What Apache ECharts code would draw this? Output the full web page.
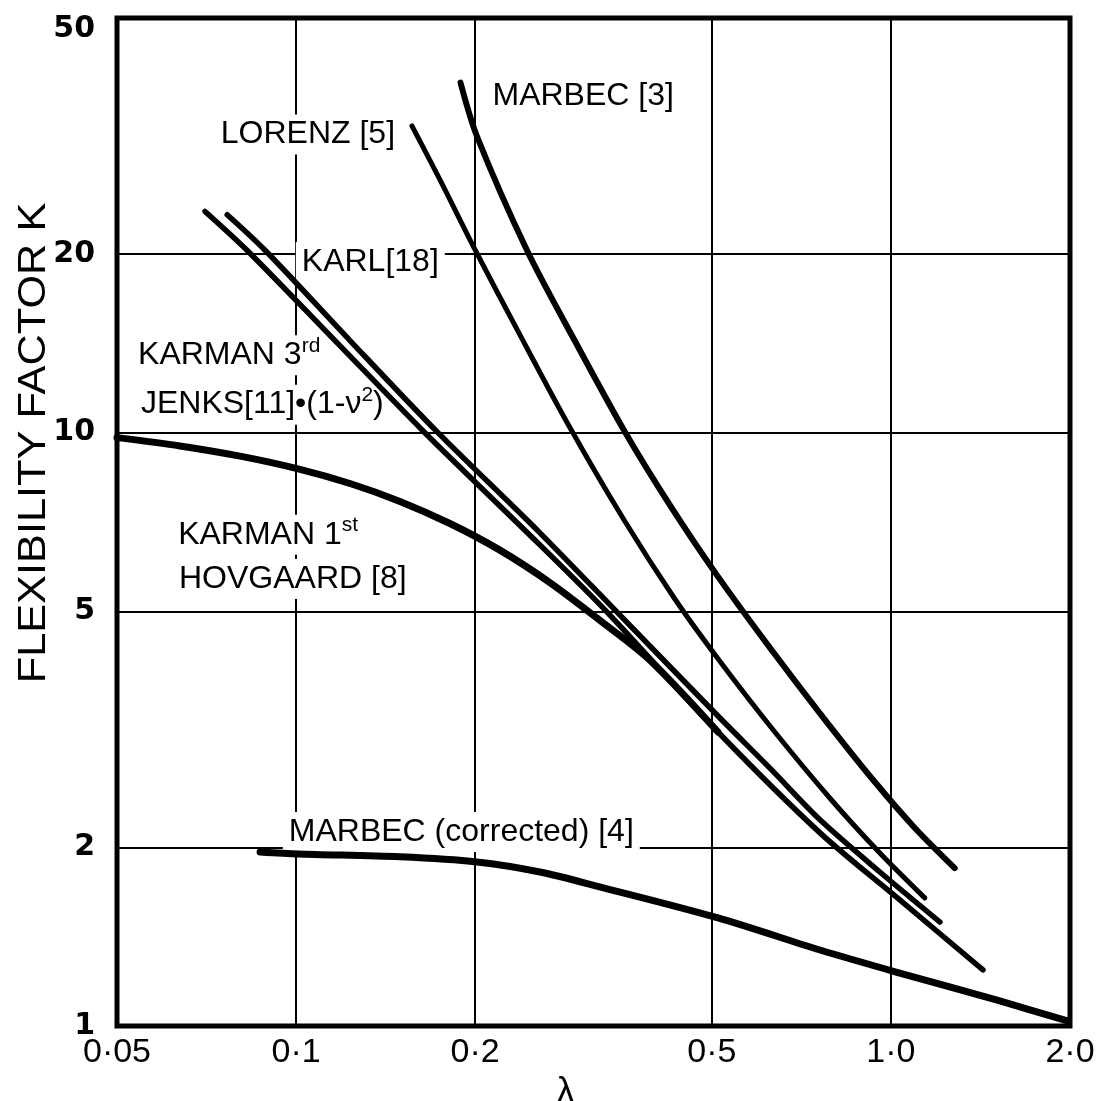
<!DOCTYPE html>
<html>
<head>
<meta charset="utf-8">
<script src="https://cdn.jsdelivr.net/npm/echarts@6/dist/echarts.min.js"></script>
<style>
  html, body { margin: 0; padding: 0; background: #fff; }
  #chart { width: 1104px; height: 1101px; }
</style>
</head>
<body>
<div id="chart"></div>
<script>
// Tick values on both logarithmic axes
const lambdaTicks = [0.05, 0.1, 0.2, 0.5, 1, 2];
const kTicks = [1, 2, 5, 10, 20, 50];

// Flexibility factor K against pipe-bend parameter lambda, one array per source: [lambda, K]
const marbec3 = [[0.189, 38.9], [0.2014, 31.6], [0.245, 20.2], [0.294, 14.3], [0.357, 10.04],
                 [0.428, 7.47], [0.512, 5.72], [0.626, 4.34], [0.766, 3.33], [0.939, 2.58],
                 [1.097, 2.157], [1.28, 1.846]];
const lorenz5 = [[0.1566, 32.9], [0.1745, 26.7], [0.1999, 20.35], [0.238, 14.6], [0.2886, 10.2],
                 [0.357, 7.09], [0.433, 5.25], [0.512, 4.16], [0.638, 3.13], [0.7985, 2.39],
                 [0.958, 1.957], [1.14, 1.644]];
const karl18 = [[0.0766, 23.3], [0.0887, 20.3], [0.1232, 14.3], [0.1725, 10.04], [0.257, 6.78],
                [0.350, 4.93], [0.512, 3.33], [0.626, 2.72], [0.760, 2.226], [0.958, 1.818],
                [1.209, 1.497]];
const karman3rd = [[0.0703, 23.6], [0.0827, 20.3], [0.1167, 14.24], [0.1646, 10.0], [0.257, 6.47],
                   [0.333, 4.99], [0.512, 3.13], [0.760, 2.116], [1.035, 1.631], [1.428, 1.243]];
const karman1st = [[0.05, 9.81], [0.0638, 9.50], [0.0805, 9.13], [0.1008, 8.69], [0.1232, 8.21],
                   [0.1495, 7.66], [0.1814, 7.03], [0.2201, 6.34], [0.2671, 5.59], [0.324, 4.83],
                   [0.393, 4.14], [0.512, 3.13]];
const marbecCorrected = [[0.087, 1.965], [0.1008, 1.950], [0.1495, 1.928], [0.2014, 1.890],
                         [0.257, 1.818], [0.324, 1.716], [0.512, 1.521], [0.760, 1.343],
                         [1.02, 1.233], [1.524, 1.102], [1.98, 1.020]];

// Curve annotations, anchored at [lambda, K] (left edge, vertical middle of the text)
const annotations = [
  { text: 'MARBEC [3]', at: [0.209, 36.9] },
  { text: 'LORENZ [5]', at: [0.0730, 31.8] },
  { text: 'KARL[18]', at: [0.0999, 19.4] },
  { text: 'KARMAN 3{s|rd}', at: [0.053, 13.5] },
  { text: 'JENKS[11]•(1-ν{s|2})', at: [0.0536, 11.15] },
  { text: 'KARMAN 1{s|st}', at: [0.0619, 6.73] },
  { text: 'HOVGAARD [8]', at: [0.0621, 5.67] },
  { text: 'MARBEC (corrected) [4]', at: [0.095, 2.124] }
];

const Y_TITLE = 'FLEXIBILITY FACTOR K';

const FONT = '"Liberation Sans", Arial, sans-serif';
const DIGITS = '"DejaVu Sans", "Liberation Sans", sans-serif';

function curve(name, data, width) {
  return {
    name: name,
    type: 'line',
    data: data,
    symbol: 'none',
    smooth: 0.3,
    z: 3,
    silent: true,
    lineStyle: { color: '#000', width: width, cap: 'round', join: 'round' }
  };
}

function fmtLambda(v) {
  const s = v < 1 ? String(+v.toPrecision(3)) : v.toFixed(1);
  return s.replace('.', '·');
}

// The topmost K label sits a little below its gridline
function fmtK(v) {
  return v === 50 ? '{top|50}' : String(v);
}

const chart = echarts.init(document.getElementById('chart'), null, { renderer: 'canvas' });

chart.setOption({
  animation: false,
  backgroundColor: '#fff',
  grid: {
    left: 117, right: 34, top: 18, bottom: 75,
    containLabel: false, outerBoundsMode: 'none',
    show: true, borderColor: '#000', borderWidth: 5, backgroundColor: 'transparent'
  },
  xAxis: {
    type: 'log', logBase: 10, min: 0.05, max: 2,
    name: 'λ', nameLocation: 'middle', nameGap: 46,
    nameTextStyle: { fontFamily: FONT, fontSize: 36, color: '#000', padding: [0, 56, 0, 0] },
    axisLine: { show: false },
    axisTick: { show: false, customValues: lambdaTicks },
    axisLabel: {
      customValues: lambdaTicks, formatter: fmtLambda, hideOverlap: false,
      showMinLabel: true, showMaxLabel: true,
      fontFamily: FONT, fontSize: 34, color: '#000', margin: 10
    },
    splitLine: { show: true, lineStyle: { color: '#000', width: 2 } }
  },
  yAxis: {
    type: 'log', logBase: 10, min: 1, max: 50,
    axisLine: { show: false },
    axisTick: { show: false, customValues: kTicks },
    axisLabel: {
      customValues: kTicks, formatter: fmtK, hideOverlap: false,
      showMinLabel: true, showMaxLabel: true,
      fontFamily: DIGITS, fontWeight: 'bold', fontSize: 30, color: '#000', margin: 22,
      rich: {
        top: { fontFamily: DIGITS, fontWeight: 'bold', fontSize: 30, color: '#000', padding: [22, 0, 0, 0] }
      }
    },
    splitLine: { show: true, lineStyle: { color: '#000', width: 2 } }
  },
  series: [
    curve('MARBEC [3]', marbec3, 6),
    curve('LORENZ [5]', lorenz5, 5),
    curve('KARL [18]', karl18, 5.5),
    curve('KARMAN 3rd / JENKS [11]', karman3rd, 5.5),
    curve('KARMAN 1st / HOVGAARD [8]', karman1st, 7),
    curve('MARBEC (corrected) [4]', marbecCorrected, 7)
  ]
});

// Curve annotations go through the grid's own coordinate conversion;
// the vertical axis title is set beside the axis, reading upwards.
function placeAnnotations() {
  const elements = annotations.map(function (a) {
    const p = chart.convertToPixel({ gridIndex: 0 }, a.at);
    return {
      type: 'text',
      x: p[0], y: p[1],
      z: 1,
      silent: true,
      style: {
        text: a.text,
        fontFamily: FONT, fontSize: 32,
        fill: '#000',
        align: 'left', verticalAlign: 'middle',
        textAlign: 'left', textVerticalAlign: 'middle',
        lineHeight: 40,
        backgroundColor: '#fff',
        padding: [0, 6, 0, 6],
        rich: {
          s: { fontFamily: FONT, fontSize: 21, lineHeight: 21, verticalAlign: 'top', fill: '#000' }
        }
      }
    };
  });
  elements.push({
    type: 'text',
    x: 35, y: 443,
    rotation: Math.PI / 2,
    scaleX: 1.14,
    silent: true,
    style: {
      text: Y_TITLE,
      fontFamily: FONT, fontSize: 38,
      fill: '#000',
      align: 'center', verticalAlign: 'middle',
      textAlign: 'center', textVerticalAlign: 'middle'
    }
  });
  chart.setOption({ graphic: { elements: elements } });
}
placeAnnotations();
</script>
</body>
</html>
